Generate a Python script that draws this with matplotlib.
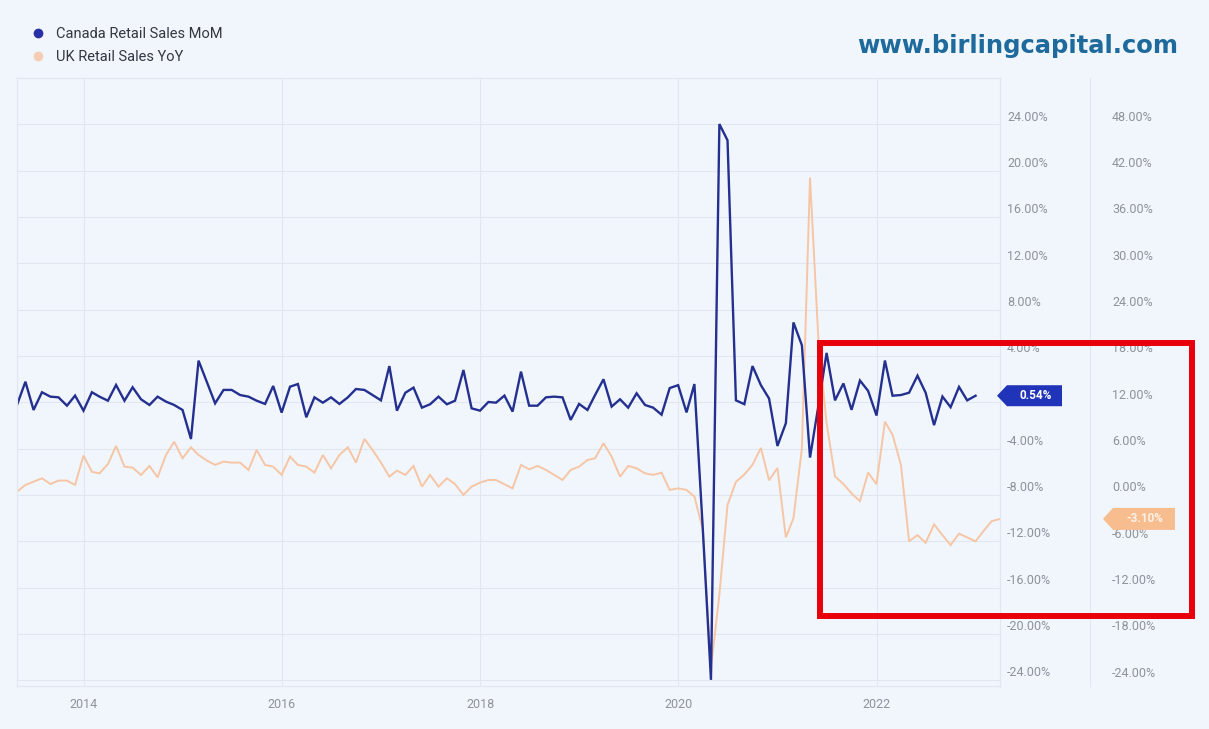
import numpy as np
import pandas as pd
import matplotlib
matplotlib.use("Agg")
import matplotlib.pyplot as plt
import matplotlib.dates as mdates
from matplotlib.lines import Line2D
from matplotlib.patches import Polygon, Rectangle
from matplotlib.transforms import blended_transform_factory, ScaledTranslation

# -----------------------
# Data (monthly, month-end, starting Apr 2013)
# -----------------------
canada_mom = [
    -0.26, 1.75, -0.69, 0.84, 0.46, 0.40, -0.32, 0.55, -0.75, 0.84,
    0.46, 0.11, 1.47, 0.11, 1.27, 0.23, -0.26, 0.46, 0.03, -0.26,
    -0.69, -3.20, 3.57, 1.70, -0.12, 1.04, 1.04, 0.60, 0.46, 0.11,
    -0.17, 1.38, -0.92, 1.32, 1.55, -1.32, 0.40, -0.06, 0.40, -0.17,
    0.40, 1.12, 1.04, 0.60, 0.14, 3.10, -0.75, 0.80, 1.24, -0.49,
    -0.20, 0.46, -0.20, 0.11, 2.76, -0.55, -0.75, 0.00, -0.06, 0.55,
    -0.83, 2.62, -0.32, -0.32, 0.40, 0.46, 0.40, -1.55, -0.17, -0.69,
    0.60, 1.96, -0.40, 0.23, -0.49, 0.75, -0.26, -0.49, -1.10, 1.20,
    1.45, -0.90, 1.55, -11.00, -24.00, 24.00, 22.60, 0.14, -0.19, 3.10,
    1.45, 0.30, -3.80, -1.83, 6.87, 4.90, -4.80, -0.30, 4.24, 0.14,
    1.60, -0.68, 1.85, 0.96, -1.17, 3.58, 0.54, 0.60, 0.80, 2.27,
    0.80, -2.00, 0.47, -0.45, 1.30, 0.14, 0.54,
]

uk_yoy = [
    0.43, 1.30, 1.72, 2.16, 1.42, 1.86, 1.86, 1.30, 5.10, 3.00,
    2.80, 4.00, 6.35, 3.67, 3.54, 2.60, 3.76, 2.29, 5.18, 6.90,
    4.75, 6.18, 5.18, 4.45, 3.89, 4.32, 4.19, 4.19, 3.24, 5.83,
    3.89, 3.67, 2.60, 4.97, 3.89, 3.67, 2.89, 5.18, 3.45, 5.18,
    6.18, 4.19, 7.25, 5.83, 4.19, 2.37, 3.15, 2.60, 3.76, 1.08,
    2.60, 1.08, 2.16, 1.42, 0.00, 1.08, 1.60, 1.94, 1.94, 1.38,
    0.86, 3.89, 3.32, 3.76, 3.24, 2.60, 1.94, 3.24, 3.67, 4.53,
    4.75, 6.70, 4.97, 2.37, 3.76, 3.45, 2.80, 2.60, 2.89, 0.65,
    0.86, 0.65, -0.20, -4.50, -22.40, -12.90, -1.30, 1.70, 2.65, 3.90,
    6.10, 1.90, 3.50, -5.50, -3.00, 6.00, 41.10, 20.00, 9.30, 2.40,
    1.42, 0.20, -0.80, 2.90, 1.40, 9.50, 7.80, 3.90, -6.00, -5.20,
    -6.20, -3.80, -5.20, -6.50, -5.00, -5.50, -6.00, -4.60, -3.40, -3.10,
]

canada_ticks = np.arange(-24, 25, 4)
uk_ticks = np.arange(-24, 49, 6)
canada_tag = "0.54%"
uk_tag = "-3.10%"
series_names = ["Canada Retail Sales MoM", "UK Retail Sales YoY"]

dates_ca = pd.date_range("2013-05-01", periods=len(canada_mom), freq="MS") - pd.Timedelta(days=1)
dates_uk = pd.date_range("2013-05-01", periods=len(uk_yoy), freq="MS") - pd.Timedelta(days=1)

# -----------------------
# Style
# -----------------------
BG = "#f1f6fc"
GRID = "#e1e7f0"
LABEL = "#8d929b"
NAVY = "#24308f"
PEACH = "#f6c3a0"
W, H = 1209, 729

plt.rcParams["font.family"] = ["Roboto", "DejaVu Sans"]

fig = plt.figure(figsize=(W / 100, H / 100), dpi=100, facecolor=BG)
ax = fig.add_axes([17 / W, 1 - 686 / H, (1000 - 17) / W, (686 - 78) / H])
ax.set_facecolor(BG)
ax2 = ax.twinx()

# UK on the primary axis (drawn below), Canada on the twin (on top)
ax.plot(dates_uk, uk_yoy, color=PEACH, lw=1.4, alpha=0.95, solid_joinstyle="miter")
ax2.plot(dates_ca, canada_mom, color=NAVY, lw=1.7, solid_joinstyle="miter")

ax.set_xlim(dates_uk[0], dates_uk[-1])
ax.set_ylim(-24.74, 54.0)
ax2.set_ylim(-24.53, 27.98)

ax.set_yticks(uk_ticks)
ax2.set_yticks(canada_ticks)
ax.yaxis.set_ticklabels([])
ax2.yaxis.set_ticklabels([])
ax.tick_params(axis="y", length=0)
ax2.tick_params(axis="y", length=0)
ax.grid(axis="y", color=GRID, lw=0.8)

ax.xaxis.set_major_locator(mdates.YearLocator(2))
ax.xaxis.set_major_formatter(mdates.DateFormatter("%Y"))
ax.tick_params(axis="x", length=0, pad=9, labelsize=9, labelcolor=LABEL)
ax.grid(axis="x", color=GRID, lw=0.8)

for a in (ax, ax2):
    for s in a.spines.values():
        s.set_color(GRID)
        s.set_linewidth(0.8)

# y labels: both columns on the right, sitting a little above the grid lines
lift = ScaledTranslation(0, 7 / 100, fig.dpi_scale_trans)
tr_ca = blended_transform_factory(ax2.transAxes, ax2.transData) + lift
tr_uk = blended_transform_factory(ax.transAxes, ax.transData) + lift
for t in canada_ticks:
    if t == 0:
        continue
    ax2.text(1.0071, t, f"{t:.2f}%", transform=tr_ca, ha="left", va="center",
             fontsize=9, color=LABEL, clip_on=False)
for t in uk_ticks:
    ax.text(1.114, t, f"{t:.2f}%", transform=tr_uk, ha="left", va="center",
            fontsize=9, color=LABEL, clip_on=False)

# separator between the two label columns
fig.add_artist(Line2D([1090 / W, 1090 / W], [1 - 686 / H, 1 - 78 / H],
                      transform=fig.transFigure, color=GRID, lw=0.8))


# last-value tags
def value_tag(axis, x_tip, value, text, color, w_px, h_px, text_color="white"):
    anchor = ScaledTranslation(x_tip, value, blended_transform_factory(axis.transAxes, axis.transData))
    tr = fig.dpi_scale_trans + anchor
    w, h, a = w_px / 100, h_px / 100, 0.10
    poly = Polygon([(0, 0), (a, h / 2), (w, h / 2), (w, -h / 2), (a, -h / 2)],
                   closed=True, transform=tr, facecolor=color, edgecolor="none",
                   clip_on=False, zorder=5)
    axis.add_artist(poly)
    axis.text((a + w) / 2 + 0.01, 0, text, transform=tr, ha="center", va="center",
              fontsize=8.5, fontweight="bold", color=text_color, clip_on=False, zorder=6)


value_tag(ax2, (997 - 17) / 983, canada_mom[-1], canada_tag, "#1f34b8", 65, 21)
value_tag(ax, (1103 - 17) / 983, uk_yoy[-1], uk_tag, "#f7bd8f", 72, 22, text_color="#fdf1e6")

# legend
handles = [Line2D([], [], ls="none", marker="o", ms=6, color="#2a30a6"),
           Line2D([], [], ls="none", marker="o", ms=6, color="#f4cdb4")]
fig.legend(handles, series_names, loc="upper left", bbox_to_anchor=(25 / W, 1 - 20 / H),
           frameon=False, fontsize=10.5, labelcolor="#333742", handlelength=0.8,
           handletextpad=0.8, labelspacing=0.62, borderpad=0)

# site name
fig.text(1178 / W, 1 - 46 / H, "www.birlingcapital.com", ha="right", va="center",
         fontsize=17.5, fontweight="bold", color="#1e6a9c", family=["DejaVu Sans"])

# red highlight box
fig.add_artist(Rectangle((820 / W, 1 - 616 / H), (1192 - 820) / W, (616 - 343) / H,
                         transform=fig.transFigure, fill=False, edgecolor="#e8000b",
                         lw=4.3, joinstyle="miter", zorder=10))

fig.savefig("out.png", dpi=100, facecolor=BG)
